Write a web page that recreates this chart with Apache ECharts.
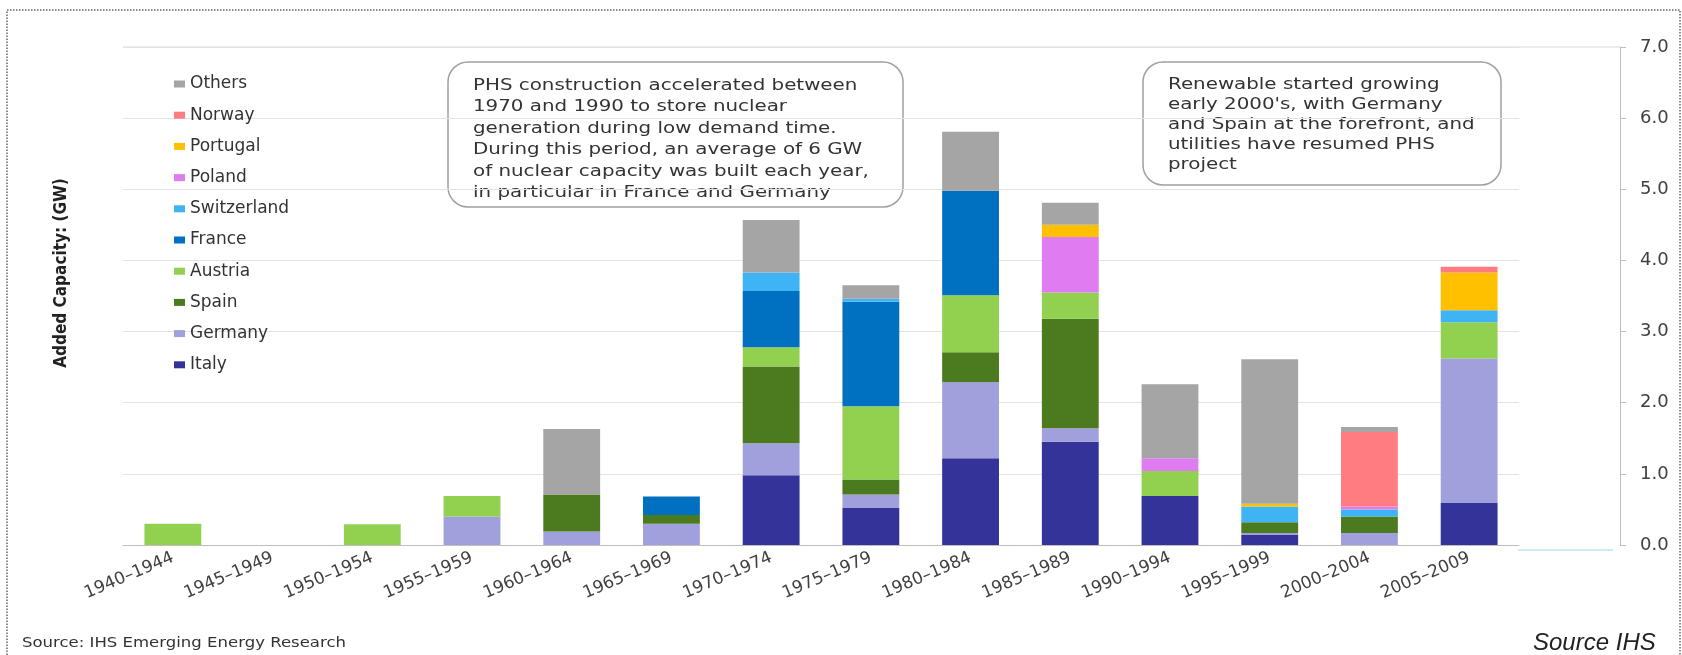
<!DOCTYPE html>
<html>
<head>
<meta charset="utf-8">
<title>PHS added capacity in Europe</title>
<script src="https://cdn.jsdelivr.net/npm/echarts@6/dist/echarts.min.js"></script>
<style>
  html, body { margin: 0; padding: 0; background: #fff; }
  #chart { width: 1682px; height: 655px; }
</style>
</head>
<body>
<div id="chart"></div>
<script>
var periods = ['1940–1944', '1945–1949', '1950–1954', '1955–1959', '1960–1964', '1965–1969', '1970–1974',
  '1975–1979', '1980–1984', '1985–1989', '1990–1994', '1995–1999', '2000–2004', '2005–2009'];

// added capacity per period, GW (stacked bottom to top)
var italy       = [0,    0, 0,    0,    0,    0,    0.98, 0.52, 1.22, 1.45, 0.69, 0.14, 0,    0.59];
var germany     = [0,    0, 0,    0.40, 0.19, 0.30, 0.45, 0.19, 1.07, 0.19, 0,    0.03, 0.17, 2.03];
var spain       = [0,    0, 0,    0,    0.52, 0.12, 1.08, 0.21, 0.42, 1.54, 0,    0.15, 0.23, 0];
var austria     = [0.30, 0, 0.29, 0.29, 0,    0,    0.27, 1.03, 0.80, 0.37, 0.35, 0,    0,    0.51];
var france      = [0,    0, 0,    0,    0,    0.26, 0.79, 1.47, 1.47, 0,    0,    0,    0,    0];
var switzerland = [0,    0, 0,    0,    0,    0,    0.26, 0.04, 0,    0,    0,    0.22, 0.10, 0.17];
var poland      = [0,    0, 0,    0,    0,    0,    0,    0,    0,    0.78, 0.18, 0,    0.04, 0];
var portugal    = [0,    0, 0,    0,    0,    0,    0,    0,    0,    0.17, 0,    0.04, 0,    0.53];
var norway      = [0,    0, 0,    0,    0,    0,    0,    0,    0,    0,    0,    0,    1.05, 0.08];
var others      = [0,    0, 0,    0,    0.92, 0,    0.74, 0.19, 0.83, 0.31, 1.04, 2.03, 0.07, 0];

var yTicks = [0, 1, 2, 3, 4, 5, 6, 7];

var note1 = 'PHS construction accelerated between\n1970 and 1990 to store nuclear\ngeneration during low demand time.\n' +
  'During this period, an average of 6 GW\nof nuclear capacity was built each year,\nin particular in France and Germany';
var note2 = 'Renewable started growing\nearly 2000\'s, with Germany\nand Spain at the forefront, and\nutilities have resumed PHS\nproject';

var font = '"DejaVu Sans", "Liberation Sans", sans-serif';

var stack = [
  ['Italy', italy, '#333399'],
  ['Germany', germany, '#A0A0DC'],
  ['Spain', spain, '#4B7A1F'],
  ['Austria', austria, '#92D050'],
  ['France', france, '#0070C0'],
  ['Switzerland', switzerland, '#3FB4F4'],
  ['Poland', poland, '#DF7CF2'],
  ['Portugal', portugal, '#FFC000'],
  ['Norway', norway, '#FF7C80'],
  ['Others', others, '#A5A5A5']
];

var series = stack.map(function(s) {
  return {
    name: s[0],
    type: 'bar',
    stack: 'total',
    barWidth: '57%',
    itemStyle: { color: s[2] },
    data: s[1]
  };
});

function note(x, y, w, h, text, lh) {
  return {
    type: 'group',
    x: x,
    y: y,
    z: 100,
    children: [{
      type: 'rect',
      shape: { x: 0, y: 0, width: w, height: h, r: 20 },
      style: { fill: '#fff', stroke: '#A0A0A0', lineWidth: 1.5 }
    }, {
      type: 'text',
      x: 25,
      y: 13,
      scaleX: 1.24,
      style: {
        text: text,
        font: '16px ' + font,
        fill: '#333',
        lineHeight: lh,
        verticalAlign: 'top',
        textVerticalAlign: 'top'
      }
    }]
  };
}

var chart = echarts.init(document.getElementById('chart'));

chart.setOption({
  animation: false,
  textStyle: { fontFamily: font },
  legend: {
    orient: 'vertical',
    left: 169,
    top: 69,
    icon: 'rect',
    itemWidth: 11,
    itemHeight: 7,
    itemGap: 11.2,
    textStyle: { fontSize: 17, color: '#333', lineHeight: 20 },
    data: stack.map(function(s) { return s[0]; }).reverse()
  },
  grid: { left: 123, right: 163, top: 47, bottom: 110 },
  xAxis: {
    type: 'category',
    data: periods,
    axisLine: { lineStyle: { color: '#BFBFBF' } },
    axisTick: { length: 5, lineStyle: { color: '#BFBFBF' } },
    axisLabel: { rotate: 23, interval: 0, margin: 12, fontSize: 17, color: '#404040' }
  },
  yAxis: {
    type: 'value',
    position: 'right',
    offset: 101,
    min: yTicks[0],
    max: yTicks[yTicks.length - 1],
    interval: 1,
    axisLine: { show: true, lineStyle: { color: '#BFBFBF' } },
    axisTick: { show: true, length: 6, lineStyle: { color: '#BFBFBF' } },
    axisLabel: {
      margin: 20,
      fontSize: 18,
      color: '#404040',
      formatter: function(v) { return v.toFixed(1); }
    },
    splitLine: { lineStyle: { color: '#E3E3E3' } }
  },
  graphic: [
    {
      type: 'rect',
      silent: true,
      shape: { x: 7, y: 10, width: 1673, height: 700 },
      style: { fill: 'none', stroke: '#666', lineWidth: 1.5, lineDash: [1.5, 1.5] }
    },
    {
      type: 'line',
      silent: true,
      shape: { x1: 123, y1: 47, x2: 1620, y2: 47 },
      style: { stroke: '#D9D9D9', lineWidth: 1 }
    },
    {
      type: 'line',
      silent: true,
      shape: { x1: 1518, y1: 550, x2: 1613, y2: 550 },
      style: { stroke: '#BFE4F2', lineWidth: 1.5 }
    },
    {
      type: 'text',
      x: 62,
      y: 273,
      rotation: Math.PI / 2,
      style: {
        text: 'Added Capacity: (GW)',
        font: 'bold 17px "DejaVu Sans Condensed", ' + font,
        fill: '#222',
        align: 'center',
        verticalAlign: 'middle',
        textAlign: 'center',
        textVerticalAlign: 'middle'
      }
    },
    note(448, 62, 455, 145, note1, 21.5),
    note(1143, 62, 358, 123, note2, 20),
    {
      type: 'text',
      x: 22,
      y: 643,
      scaleX: 1.18,
      style: {
        text: 'Source: IHS Emerging Energy Research',
        font: '14px ' + font,
        fill: '#333',
        verticalAlign: 'middle',
        textVerticalAlign: 'middle'
      }
    },
    {
      type: 'text',
      x: 1533,
      y: 643,
      style: {
        text: 'Source IHS',
        font: 'italic 24px "Liberation Sans", Arial, sans-serif',
        fill: '#222',
        verticalAlign: 'middle',
        textVerticalAlign: 'middle'
      }
    }
  ],
  series: series
});
</script>
</body>
</html>
